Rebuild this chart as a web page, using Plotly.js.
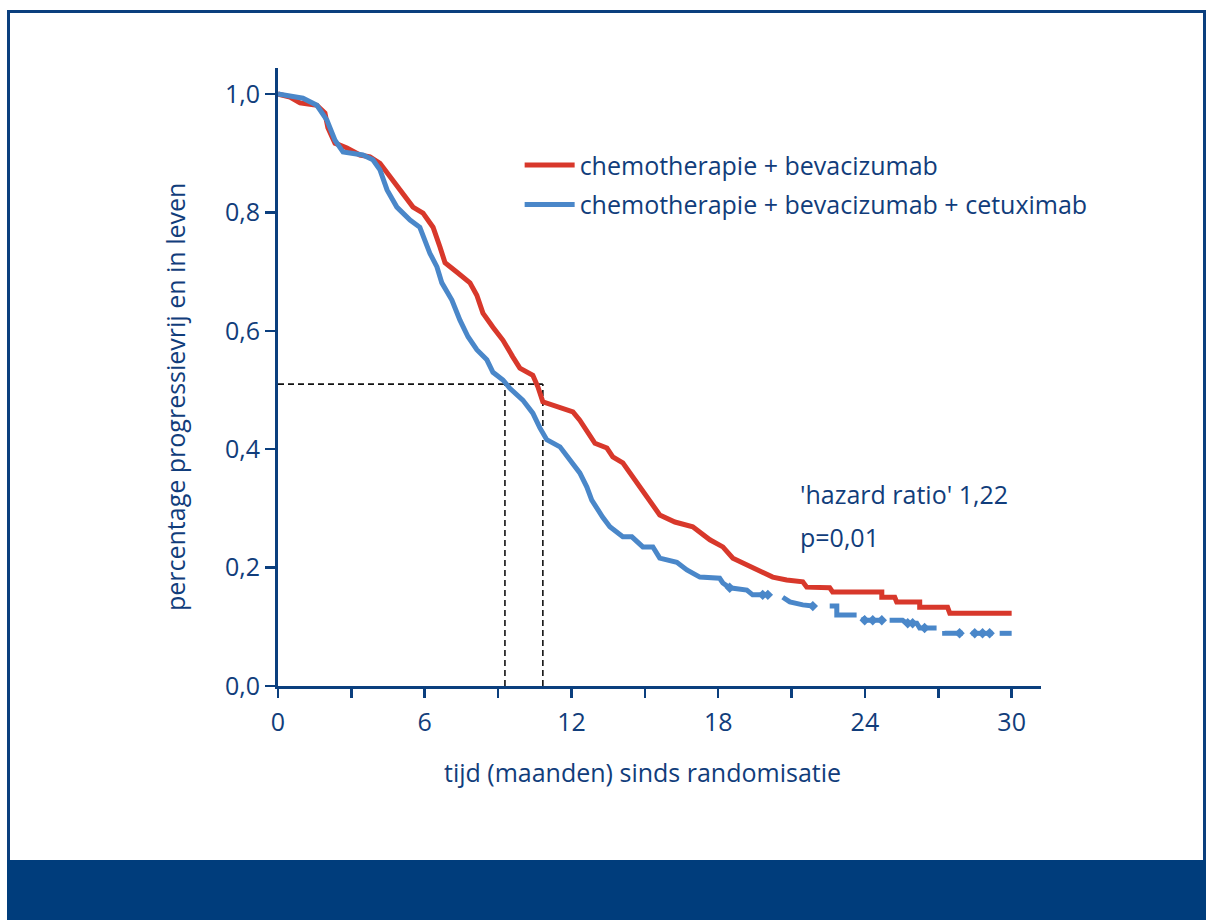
<!DOCTYPE html>
<html>
<head>
<meta charset="utf-8">
<script src="https://cdn.plot.ly/plotly-3.0.1.min.js"></script>
<style>
  html, body { margin: 0; padding: 0; background: #ffffff; }
  #wrap { position: relative; width: 1206px; height: 920px; overflow: hidden; }
  #chart { position: absolute; left: 0; top: 0; width: 1206px; height: 920px; }
  #frame { position: absolute; left: 7px; top: 10px; width: 1199px; height: 860px;
           border-left: 3px solid #0b3f7e; border-top: 3px solid #0b3f7e; border-right: 3px solid #0b3f7e;
           pointer-events: none; box-sizing: border-box; }
  #band { position: absolute; left: 7px; top: 860px; width: 1199px; height: 60px; background: #003d7c; pointer-events: none; }
</style>
</head>
<body>
<div id="wrap">
  <div id="chart"></div>
  <div id="frame"></div>
  <div id="band"></div>
</div>
<script>
// ---- data ----
const seriesNames = ["chemotherapie + bevacizumab", "chemotherapie + bevacizumab + cetuximab"];

const redMonths = [0, 0.49, 0.90, 1.59, 1.92, 2.04, 2.33, 2.82, 3.35, 3.76, 4.17, 4.58, 5.11, 5.52, 5.93, 6.34, 6.62, 6.83, 7.32, 7.85, 8.13, 8.38, 8.79, 9.20, 9.60, 9.89, 10.42, 10.63, 10.83, 11.53, 12.06, 12.34, 12.63, 12.96, 13.45, 13.69, 14.10, 14.51, 14.92, 15.20, 15.61, 16.23, 16.96, 17.66, 18.19, 18.60, 19.17, 19.58, 20.23, 20.80, 21.46, 21.62, 22.56, 22.68, 24.69, 24.69, 25.22, 25.30, 26.24, 26.24, 27.38, 27.47, 30.0];
const redSurv   = [1.000, 0.995, 0.985, 0.981, 0.968, 0.943, 0.917, 0.909, 0.897, 0.894, 0.883, 0.860, 0.833, 0.809, 0.799, 0.775, 0.742, 0.715, 0.699, 0.681, 0.660, 0.630, 0.606, 0.584, 0.556, 0.537, 0.525, 0.505, 0.480, 0.471, 0.463, 0.449, 0.432, 0.410, 0.402, 0.387, 0.377, 0.353, 0.331, 0.314, 0.289, 0.277, 0.269, 0.247, 0.235, 0.216, 0.204, 0.196, 0.184, 0.179, 0.176, 0.167, 0.166, 0.159, 0.159, 0.150, 0.150, 0.142, 0.142, 0.133, 0.133, 0.123, 0.123];

const blueMonths = [0, 1.02, 1.59, 2.00, 2.33, 2.66, 3.47, 3.88, 4.17, 4.46, 4.86, 5.40, 5.80, 6.21, 6.50, 6.70, 7.11, 7.44, 7.77, 8.13, 8.54, 8.79, 9.20, 9.48, 10.01, 10.42, 10.71, 10.99, 11.53, 11.93, 12.34, 12.63, 12.83, 13.28, 13.57, 14.10, 14.47, 14.92, 15.33, 15.61, 16.31, 16.72, 17.25, 18.06, 18.19, 18.47, 19.17, 19.41, 20.11, null, 20.64, 20.93, 21.46, 21.87, null, 22.56, 22.85, 22.85, 23.66, null, 23.91, 24.00, 24.73, null, 25.01, 25.54, 25.71, 26.12, 26.24, 26.93, null, 27.26, 27.26, 28.00, null, 28.36, 29.22, null, 29.51, 30.0];
const blueSurv   = [1.000, 0.993, 0.981, 0.956, 0.922, 0.902, 0.897, 0.889, 0.872, 0.838, 0.809, 0.787, 0.775, 0.731, 0.708, 0.681, 0.652, 0.618, 0.590, 0.568, 0.551, 0.530, 0.517, 0.503, 0.483, 0.461, 0.436, 0.416, 0.404, 0.382, 0.360, 0.336, 0.314, 0.285, 0.269, 0.252, 0.252, 0.235, 0.235, 0.216, 0.209, 0.196, 0.184, 0.182, 0.174, 0.166, 0.162, 0.154, 0.154, null, 0.150, 0.142, 0.137, 0.135, null, 0.135, 0.135, 0.120, 0.120, null, 0.117, 0.111, 0.111, null, 0.111, 0.111, 0.106, 0.106, 0.098, 0.098, null, 0.093, 0.089, 0.089, null, 0.089, 0.089, null, 0.089, 0.089];

const blueCensorMonths = [18.47, 19.82, 20.03, 21.87, 23.99, 24.32, 24.69, 25.75, 25.95, 26.44, 27.87, 28.49, 28.81, 29.10];
const blueCensorSurv   = [0.166, 0.154, 0.154, 0.135, 0.111, 0.111, 0.111, 0.106, 0.106, 0.098, 0.089, 0.089, 0.089, 0.089];

const medianMonths = [9.28, 10.83];
const medianSurv = 0.51;

const xTickVals = [0, 3, 6, 9, 12, 15, 18, 21, 24, 27, 30];
const xTickText = ["0", "", "6", "", "12", "", "18", "", "24", "", "30"];
const yTickVals = [0, 0.2, 0.4, 0.6, 0.8, 1.0];
const yTickText = ["0,0", "0,2", "0,4", "0,6", "0,8", "1,0"];

const statsText = ["'hazard ratio' 1,22", "p=0,01"];
const xTitle = "tijd (maanden) sinds randomisatie";
const yTitle = "percentage progressievrij en in leven";

// ---- styling ----
const navy = "#0b3f7e";
const textCol = "#113d7b";
const red = "#d8382b";
const blue = "#4a87c9";
const FONT = "Open Sans, Noto Sans, sans-serif";

const dashStyle = { color: "#111111", width: 1.6, dash: "6px,4px" };

const traces = [
  { x: [0, medianMonths[1]], y: [medianSurv, medianSurv], mode: "lines", line: dashStyle, showlegend: false, hoverinfo: "skip" },
  { x: [medianMonths[0], medianMonths[0]], y: [0, medianSurv], mode: "lines", line: dashStyle, showlegend: false, hoverinfo: "skip" },
  { x: [medianMonths[1], medianMonths[1]], y: [0, medianSurv], mode: "lines", line: dashStyle, showlegend: false, hoverinfo: "skip" },
  { x: redMonths, y: redSurv, mode: "lines", name: seriesNames[0], legendgroup: "a",
    line: { color: red, width: 5, shape: "linear" } },
  { x: blueMonths, y: blueSurv, mode: "lines", name: seriesNames[1], legendgroup: "b", connectgaps: false,
    line: { color: blue, width: 5, shape: "linear" } },
  { x: blueCensorMonths, y: blueCensorSurv, mode: "markers", showlegend: false, hoverinfo: "skip",
    marker: { symbol: "diamond", size: 8, color: blue } }
];

const layout = {
  width: 1206, height: 920,
  margin: { l: 278, r: 165, t: 68, b: 234 },
  paper_bgcolor: "rgba(0,0,0,0)",
  plot_bgcolor: "rgba(0,0,0,0)",
  font: { family: FONT, color: textCol, size: 25 },
  showlegend: true,
  legend: {
    x: 0.3167, y: 0.880, xanchor: "left", yanchor: "top",
    traceorder: "grouped", tracegroupgap: 4, itemwidth: 50,
    font: { family: FONT, size: 25, color: textCol },
    bgcolor: "rgba(0,0,0,0)", borderwidth: 0
  },
  xaxis: {
    range: [0, 31.2], showgrid: false, zeroline: false,
    showline: true, linecolor: navy, linewidth: 3,
    ticks: "outside", ticklen: 9, tickwidth: 2.5, tickcolor: navy,
    tickvals: xTickVals, ticktext: xTickText,
    tickfont: { family: FONT, size: 25, color: textCol },
    ticklabelstandoff: 3,
    fixedrange: true
  },
  yaxis: {
    range: [0, 1.044], showgrid: false, zeroline: false,
    showline: true, linecolor: navy, linewidth: 3,
    ticks: "outside", ticklen: 10, tickwidth: 2.5, tickcolor: navy,
    tickvals: yTickVals, ticktext: yTickText,
    tickfont: { family: FONT, size: 25, color: textCol },
    fixedrange: true
  },
  annotations: [
    { x: 21.25, y: 0.324, xref: "x", yref: "y", text: statsText[0], showarrow: false, xanchor: "left", yanchor: "middle",
      font: { family: FONT, size: 25, color: textCol } },
    { x: 21.25, y: 0.252, xref: "x", yref: "y", text: statsText[1], showarrow: false, xanchor: "left", yanchor: "middle",
      font: { family: FONT, size: 25, color: textCol } },
    // axis titles (placed as in the reference, slightly off-centre)
    { x: 0.478, y: 0, xref: "paper", yref: "paper", yshift: -86, text: xTitle, showarrow: false,
      xanchor: "center", yanchor: "middle", font: { family: FONT, size: 25, color: textCol } },
    { x: 0, y: 0.4676, xref: "paper", yref: "paper", xshift: -103, text: yTitle, showarrow: false, textangle: -90,
      xanchor: "center", yanchor: "middle", font: { family: FONT, size: 25, color: textCol } }
  ]
};

Plotly.newPlot("chart", traces, layout, { displayModeBar: false, staticPlot: true });
</script>
</body>
</html>
